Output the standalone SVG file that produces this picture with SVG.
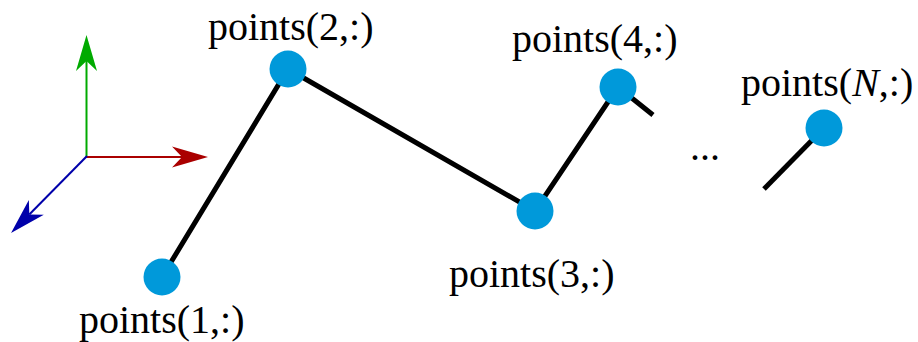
<svg xmlns="http://www.w3.org/2000/svg" width="918" height="342" viewBox="0 0 918 342">
<style>
.lbl{font-family:"Liberation Serif","Times New Roman",serif;font-size:40px;fill:#000}
.pt{fill:#0099da}
.poly{fill:none;stroke:#000;stroke-width:5;stroke-linecap:butt;stroke-linejoin:miter}
.ax{stroke-width:2;fill:none}
</style>
<defs>
<marker id="ar" markerUnits="userSpaceOnUse" markerWidth="40" markerHeight="26" viewBox="-38 -13 40 26" refX="-26" refY="0" orient="auto">
<path d="M0,0 L-36,-10.5 L-26,0 L-36,10.5 Z" fill="#aa0000"/>
</marker>
<marker id="ag" markerUnits="userSpaceOnUse" markerWidth="40" markerHeight="26" viewBox="-38 -13 40 26" refX="-26" refY="0" orient="auto">
<path d="M0,0 L-36,-10.5 L-26,0 L-36,10.5 Z" fill="#00aa00"/>
</marker>
<marker id="ab" markerUnits="userSpaceOnUse" markerWidth="40" markerHeight="26" viewBox="-38 -13 40 26" refX="-26" refY="0" orient="auto">
<path d="M0,0 L-36,-10.5 L-26,0 L-36,10.5 Z" fill="#0000aa"/>
</marker>
</defs>
<g id="axes">
<line class="ax" x1="86.5" y1="157" x2="86.5" y2="61" stroke="#00aa00" marker-end="url(#ag)"/>
<line class="ax" x1="86" y1="157" x2="182" y2="157" stroke="#aa0000" marker-end="url(#ar)"/>
<line class="ax" x1="87" y1="156" x2="29.3" y2="214.5" stroke="#0000aa" marker-end="url(#ab)"/>
</g>
<g id="connectors">
<polyline class="poly" points="162,277 288,69 535,211 618,87 653,115"/>
<line class="poly" x1="764" y1="189" x2="824" y2="128"/>
</g>
<g id="p1"><circle class="pt" cx="162" cy="277" r="18.5"/><text class="lbl" x="79" y="333">points(1,:)</text></g>
<g id="p2"><circle class="pt" cx="288" cy="69" r="18.5"/><text class="lbl" x="208" y="40">points(2,:)</text></g>
<g id="p3"><circle class="pt" cx="535" cy="211" r="18.5"/><text class="lbl" x="449" y="287">points(3,:)</text></g>
<g id="p4"><circle class="pt" cx="618" cy="87" r="18.5"/><text class="lbl" x="512" y="52">points(4,:)</text></g>
<g id="pN"><circle class="pt" cx="824" cy="128" r="18.5"/><text class="lbl" x="741" y="96">points(<tspan font-style="italic">N</tspan>,:)</text></g>
<g id="dots"><text class="lbl" x="690" y="160">...</text></g>
</svg>
